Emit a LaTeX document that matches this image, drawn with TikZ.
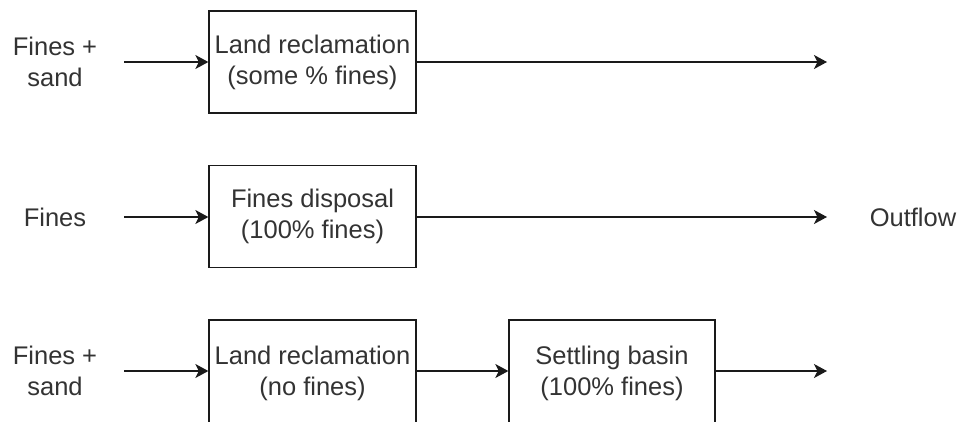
\documentclass[tikz,border=0pt]{standalone}
\usepackage{fontspec}
\setmainfont{Liberation Sans}
\usetikzlibrary{arrows.meta}
\definecolor{txt}{HTML}{333333}
\definecolor{edge}{HTML}{1A1A1A}
\begin{document}
\begin{tikzpicture}[x=1pt,y=-1pt,
  box/.style={draw=edge, line width=1.3pt, minimum width=207pt, minimum height=102pt,
    inner sep=0pt, align=center, font=\fontsize{25.5}{31}\selectfont, text=txt},
  lbl/.style={align=center, inner sep=0pt, font=\fontsize{25.5}{31}\selectfont, text=txt},
  flow/.style={draw=edge, line width=1.3pt, -{Stealth[length=13pt,width=14pt,inset=3.5pt]}}]
\useasboundingbox (0,0) rectangle (961,421);
\fill[white] (0,0) rectangle (961,421);
% row 1
\node[lbl] (in1) at (55,62) {Fines +\\sand};
\coordinate (s1) at (124,62);
\node[box] (b1) at (312.5,62) {Land reclamation\\(some \% fines)};
\coordinate (e1) at (827,62);
\draw[flow] (s1) -- (b1);
\draw[flow] (b1) -- (e1);
% row 2
\node[lbl] (in2) at (55,217) {Fines};
\coordinate (s2) at (124,217);
\node[box] (b2) at (312.5,216.5) {Fines disposal\\(100\% fines)};
\coordinate (e2) at (827,217);
\node[lbl] (out) at (913,217) {Outflow};
\draw[flow] (s2) -- (b2.west |- s2);
\draw[flow] (b2.east |- e2) -- (e2);
% row 3
\node[lbl] (in3) at (55,371) {Fines +\\sand};
\coordinate (s3) at (124,371);
\node[box, minimum height=106pt] (b3) at (312.5,373) {Land reclamation\\(no fines)};
\node[box, minimum height=106pt, minimum width=206pt] (b4) at (612,373) {Settling basin\\(100\% fines)};
\coordinate (e3) at (827,371);
\draw[flow] (s3) -- (b3.west |- s3);
\draw[flow] (b3.east |- s3) -- (b4.west |- s3);
\draw[flow] (b4.east |- e3) -- (e3);
\end{tikzpicture}
\end{document}
